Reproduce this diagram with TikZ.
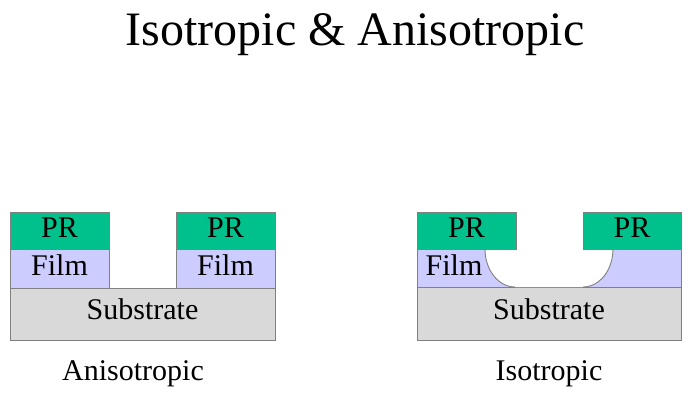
\documentclass[tikz,border=0pt]{standalone}
\usepackage{fontspec}
\setmainfont{Liberation Serif}
\definecolor{prgreen}{RGB}{0,192,139}
\definecolor{filmblue}{RGB}{204,204,255}
\definecolor{subgray}{RGB}{217,217,217}
\definecolor{edgegray}{RGB}{128,128,128}
\begin{document}
\begin{tikzpicture}[x=1pt,y=-1pt,
  layer/.style={draw=edgegray,line width=0.9pt},
  prlayer/.style={layer,fill=prgreen},
  filmlayer/.style={layer,fill=filmblue},
  sublayer/.style={layer,fill=subgray},
  lbl/.style={font=\fontsize{30}{36}\selectfont,anchor=base,inner sep=0pt},
  caption/.style={font=\fontsize{30}{36}\selectfont,anchor=base,inner sep=0pt},
  heading/.style={font=\fontsize{48}{56}\selectfont,anchor=base,inner sep=0pt}]
\useasboundingbox (0,0) rectangle (694,401);
\fill[white] (0,0) rectangle (694,401);

\node[heading] (title) at (355,46) {Isotropic \& Anisotropic};

% ---- anisotropic etch ----
\draw[sublayer] (10,288) rectangle (275,340);
\draw[filmlayer] (10,249) rectangle (109,288);
\draw[filmlayer] (176,249) rectangle (275,288);
\draw[prlayer] (10,212) rectangle (109,249);
\draw[prlayer] (176,212) rectangle (275,249);
\node[lbl] (pra1) at (59.5,237.5) {PR};
\node[lbl] (pra2) at (225.5,237.5) {PR};
\node[lbl] (filma1) at (59.5,275.5) {Film};
\node[lbl] (filma2) at (225.5,275.5) {Film};
\node[lbl] (suba) at (142.5,319) {Substrate};
\node[caption] (capa) at (133,380) {Anisotropic};

% ---- isotropic etch ----
\draw[sublayer] (417,287) rectangle (681,340);
\draw[filmlayer] (417,249) rectangle (681,287);
\fill[white] (485,248.5) .. controls (485,270) and (498.4,287) .. (515,287)
  -- (583,287) .. controls (599.6,287) and (613,270) .. (613,248.5) -- cycle;
\draw[draw=edgegray,line width=0.9pt] (485,249) .. controls (485,270) and (498.4,287) .. (515,287);
\draw[draw=edgegray,line width=0.9pt] (583,287) .. controls (599.6,287) and (613,270) .. (613,249);
\draw[prlayer] (417,212) rectangle (516,249);
\draw[prlayer] (583,212) rectangle (681,249);
\node[lbl] (pri1) at (466.5,237.5) {PR};
\node[lbl] (pri2) at (632,237.5) {PR};
\node[lbl] (filmi) at (454,275.5) {Film};
\node[lbl] (subi) at (549,319) {Substrate};
\node[caption] (capi) at (549,380) {Isotropic};
\end{tikzpicture}
\end{document}
